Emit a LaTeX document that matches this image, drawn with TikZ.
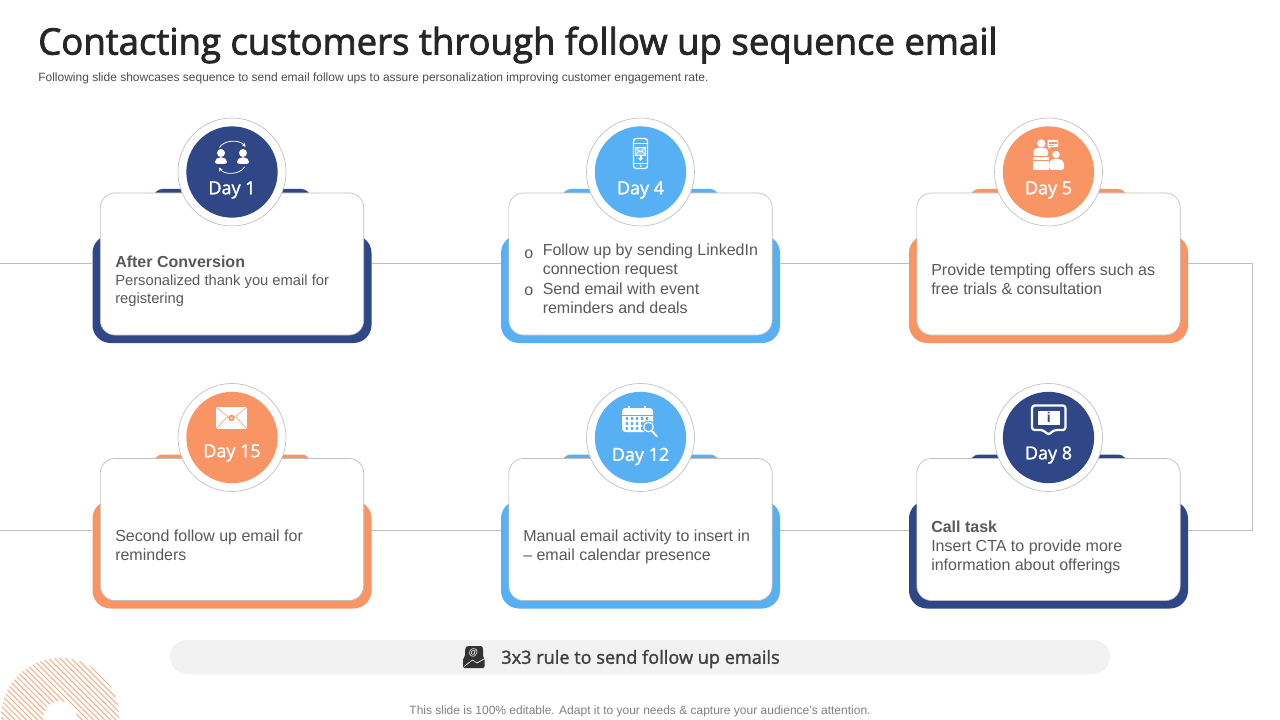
\documentclass[tikz,border=0pt]{standalone}
\usepackage{fontspec}
\usetikzlibrary{arrows.meta}
\setmainfont{Liberation Sans}
\newfontfamily\semi{Open Sans}[FakeBold=2.2]
\newfontfamily\semitwo{Open Sans}[FakeBold=1.5]
\definecolor{navy}{HTML}{2F4687}
\definecolor{sky}{HTML}{56B0F3}
\definecolor{peach}{HTML}{F99464}
\definecolor{linegrey}{HTML}{BFBFBF}
\definecolor{bodytext}{HTML}{595959}
\newcommand{\fs}[2]{\fontsize{#1pt}{#2pt}\selectfont}
\tikzset{
  backing/.style={fill=#1,draw=none,rounded corners=13.5pt,minimum width=209.25pt,minimum height=81pt,inner sep=0pt},
  tabshape/.style={fill=#1,draw=none,rounded corners=7pt,minimum width=118pt,minimum height=30pt,inner sep=0pt},
  cardbox/.style={fill=white,draw=linegrey,line width=0.5pt,rounded corners=11pt,minimum width=197.5pt,minimum height=106.5pt,inner sep=0pt},
  ringnode/.style={circle,fill=white,draw=linegrey,line width=0.5pt,minimum size=81pt,inner sep=0pt},
  discnode/.style={circle,fill=#1,draw=none,minimum size=68.5pt,inner sep=0pt},
  daylabel/.style={text=white,font=\semitwo\fs{13.5}{16},inner sep=0pt},
  bodynode/.style={anchor=west,align=left,text=bodytext,font=\fs{12}{14.3},inner sep=0pt},
  linkline/.style={draw=linegrey,line width=0.75pt},
  ico/.style={fill=white,draw=none},
  icol/.style={draw=white,line width=0.6pt},
}
\begin{document}
\begin{tikzpicture}[x=0.75pt,y=-0.75pt]
\useasboundingbox (0,0) rectangle (1280,720);
\fill[white] (0,0) rectangle (1280,720);
% title
\node[anchor=west,inner sep=0pt,text=black!85,font=\semi\fs{27.4}{32}] (title) at (38,45) {Contacting customers through follow up sequence email};
\node[anchor=west,inner sep=0pt,text=black!70,font=\fs{9}{11}] (sub) at (38,78) {Following slide showcases sequence to send email follow ups to assure personalization improving customer engagement rate.};
% link anchors
\coordinate (rowA) at (0,263.5);
\coordinate (rowB) at (0,530.2);
\coordinate (turnA) at (1252,263.5);
\coordinate (turnB) at (1252,530.2);
% backings
\foreach \nm/\cx/\cy/\col in {a/232/289/navy,b/640.5/289/sky,c/1048.5/289/peach,d/232/554.5/peach,e/640.5/554.5/sky,f/1048.5/554.5/navy}{
  \node[tabshape=\col] (tab\nm) at (\cx,{\cy-80}) {};
  \node[backing=\col] (back\nm) at (\cx,\cy) {};
  \node[cardbox] (card\nm) at (\cx,{\cy-25}) {};
  \node[ringnode] (ring\nm) at (\cx,{\cy-117}) {};
  \node[discnode=\col] (disc\nm) at (\cx,{\cy-117}) {};
}
% connectors
\draw[linkline] (rowA) -- (backa.west |- rowA);
\draw[linkline] (backa.east |- rowA) -- (backb.west |- rowA);
\draw[linkline] (backb.east |- rowA) -- (backc.west |- rowA);
\draw[linkline] (backc.east |- rowA) -- (turnA) -- (turnB) -- (backf.east |- rowB);
\draw[linkline] (backf.west |- rowB) -- (backe.east |- rowB);
\draw[linkline] (backe.west |- rowB) -- (backd.east |- rowB);
\draw[linkline] (backd.west |- rowB) -- (rowB);
% day labels
\node[daylabel] (la) at (232,190) {Day 1};
\node[daylabel] (lb) at (640.5,190) {Day 4};
\node[daylabel] (lc) at (1048.5,190) {Day 5};
\node[daylabel] (ld) at (232,453) {Day 15};
\node[daylabel] (le) at (640.5,456.5) {Day 12};
\node[daylabel] (lf) at (1048.5,455) {Day 8};
% card texts
\node[bodynode,font=\fs{11.05}{13.6}] (ta) at (115,281.3) {\fs{12}{13.6}\textbf{After Conversion}\\\fs{11.05}{13.6}Personalized thank you email for\\registering};
\node[bodynode] (tb1) at (542.5,260.5) {Follow up by sending LinkedIn\\connection request};
\node[bodynode] (tb2) at (542.5,298) {Send email with event\\reminders and deals};
\node[bodynode] (bb1) at (524,254) {o};
\node[bodynode] (bb2) at (524,291) {o};
\node[bodynode] (tc) at (931,279.2) {Provide tempting offers such as\\free trials \& consultation};
\node[bodynode] (td) at (115,545.2) {Second follow up email for\\reminders};
\node[bodynode] (te) at (523,546.5) {Manual email activity to insert in\\– email calendar presence};
\node[bodynode] (tf) at (931,547.7) {\textbf{Call task}\\Insert CTA to provide more\\information about offerings};
% icon day 1
\fill[ico] (221,153) circle (4);
\fill[ico] (243,153) circle (4);
\fill[ico,rounded corners=1.5pt] (215,163.8) -- (215,160) -- (218,157.5) -- (224,157.5) -- (227,160) -- (227,163.8) -- cycle;
\fill[ico,rounded corners=1.5pt] (237,163.8) -- (237,160) -- (240,157.5) -- (246,157.5) -- (249,160) -- (249,163.8) -- cycle;
\draw[icol,-{Stealth[length=3pt,width=3pt]}] (219.5,147.5) .. controls (224,139.5) and (240,139.5) .. (245.5,147);
\draw[icol,-{Stealth[length=3pt,width=3pt]}] (244.5,167) .. controls (240,175) and (224,175) .. (219,167.5);
% icon day 4
\draw[draw=white,line width=1pt,rounded corners=2pt] (633.5,138.5) rectangle (647.5,168.5);
\draw[icol] (633.5,143) -- (647.5,143);
\draw[icol] (633.5,163.5) -- (647.5,163.5);
\fill[ico] (640.5,166) circle (1);
\draw[icol,line width=0.5pt,fill=white,fill opacity=0.35] (635.5,147.5) rectangle (645.5,155);
\draw[icol,line width=0.5pt] (635.5,147.5) -- (640.5,152) -- (645.5,147.5);
\draw[icol,line width=0.5pt] (635.5,155) -- (639,151);
\draw[icol,line width=0.5pt] (645.5,155) -- (642,151);
\fill[ico] (639.5,155.5) rectangle (641.5,159);
\fill[ico] (638,158) -- (643,158) -- (640.5,161) -- cycle;
% icon day 5
\fill[ico] (1041.3,143.5) circle (4.2);
\fill[ico,rounded corners=1pt] (1033.5,156) -- (1033.5,150) -- (1037,148) -- (1045.5,148) -- (1048,150) -- (1048,156) -- cycle;
\fill[ico] (1033,157) rectangle (1048.5,170);
\draw[draw=peach,line width=0.4pt] (1033,160.5) -- (1048.5,160.5);
\fill[ico] (1056,154.5) circle (3.7);
\fill[ico,rounded corners=2pt] (1049.2,170) -- (1049.2,162) -- (1052,159) -- (1060,159) -- (1064,162) -- (1064,170) -- cycle;
\fill[ico] (1047.5,140) rectangle (1058,147) (1048.5,147) -- (1051,147) -- (1048.5,149) -- cycle;
\draw[draw=peach,line width=0.4pt] (1049,142) -- (1056.5,142) (1049,143.5) -- (1056.5,143.5) (1049,145) -- (1054,145);
% icon day 15
\fill[ico] (216,407) rectangle (247,429);
\draw[draw=peach,line width=0.4pt] (216,407) -- (231.5,419.5) -- (247,407) (216,429) -- (227,417) (247,429) -- (236,417);
\fill[peach] (231.5,418) circle (3.2);
\fill[white] (231.5,418) circle (1.4);
\fill[peach] (231.5,418) circle (0.7);
% icon day 12
\fill[ico,rounded corners=2.5pt] (622,408) rectangle (653,432);
\draw[draw=sky,line width=0.5pt] (622,415) -- (653,415);
\fill[ico] (628,405.5) rectangle (630,410);
\fill[ico] (644,405.5) rectangle (646,410);
\foreach \yy in {418.5,423.5,428.5}{\foreach \xx in {627,632,637,642}{\fill[sky] (\xx-1.2,\yy-1.2) rectangle (\xx+1.2,\yy+1.2);}}
\fill[sky] (645.8,417.3) rectangle (648.2,419.7);
\fill[sky] (648.5,427) circle (6.5);
\draw[draw=white,line width=0.9pt] (648.5,427) circle (4.8);
\draw[draw=white,line width=1.3pt,line cap=round] (652,431) -- (657,436.5);
% icon day 8
\draw[draw=white,line width=1.7pt,rounded corners=2pt,line join=round] (1032,405.5) -- (1065.5,405.5) -- (1065.5,430) -- (1054,430) -- (1048.5,435) -- (1043,430) -- (1032,430) -- cycle;
\fill[ico] (1038,410.5) rectangle (1059.5,425);
\node[inner sep=0pt,text=navy,font=\bfseries\fs{10.5}{10.5}] (iinfo) at (1048.7,417.7) {i};
% bar
\node[fill=black!5.1,draw=none,rounded corners=12.75pt,minimum width=705pt,minimum height=25.5pt,inner sep=0pt] (bar) at (640,657) {};
\node[inner sep=0pt,text=black!75,font=\semitwo\fs{13.6}{16}] (bart) at (640.5,659) {3x3 rule to send follow up emails};
% bar icon
\fill[black!80,rounded corners=1pt] (467,646) -- (482,646) -- (483,648) -- (483,657) -- (484.5,658.5) -- (484.5,668) -- (463,668) -- (463,658.5) -- (465,656.5) -- (465,649) -- cycle;
\draw[white,line width=0.5pt] (464,666.5) -- (472.5,660) -- (477,663) -- (484,659);
\node[inner sep=0pt,text=white,font=\bfseries\fs{7}{7}] (atsign) at (473.5,652.5) {@};
% footer
\node[anchor=center,inner sep=0pt,text=black!50,font=\fs{9}{11}] (foot) at (640,711.3) {This slide is 100\% editable. Adapt it to your needs \& capture your audience's attention.};
% deco
\begin{scope}[even odd rule]
\clip (60,717) circle (59) (60,718) circle (17);
\foreach \k in {-30,...,30}{
  \draw[draw=peach!75,line width=0.75pt] ({60+\k*5.6-80},640) -- ({60+\k*5.6},720);
}
\end{scope}
\end{tikzpicture}
\end{document}
